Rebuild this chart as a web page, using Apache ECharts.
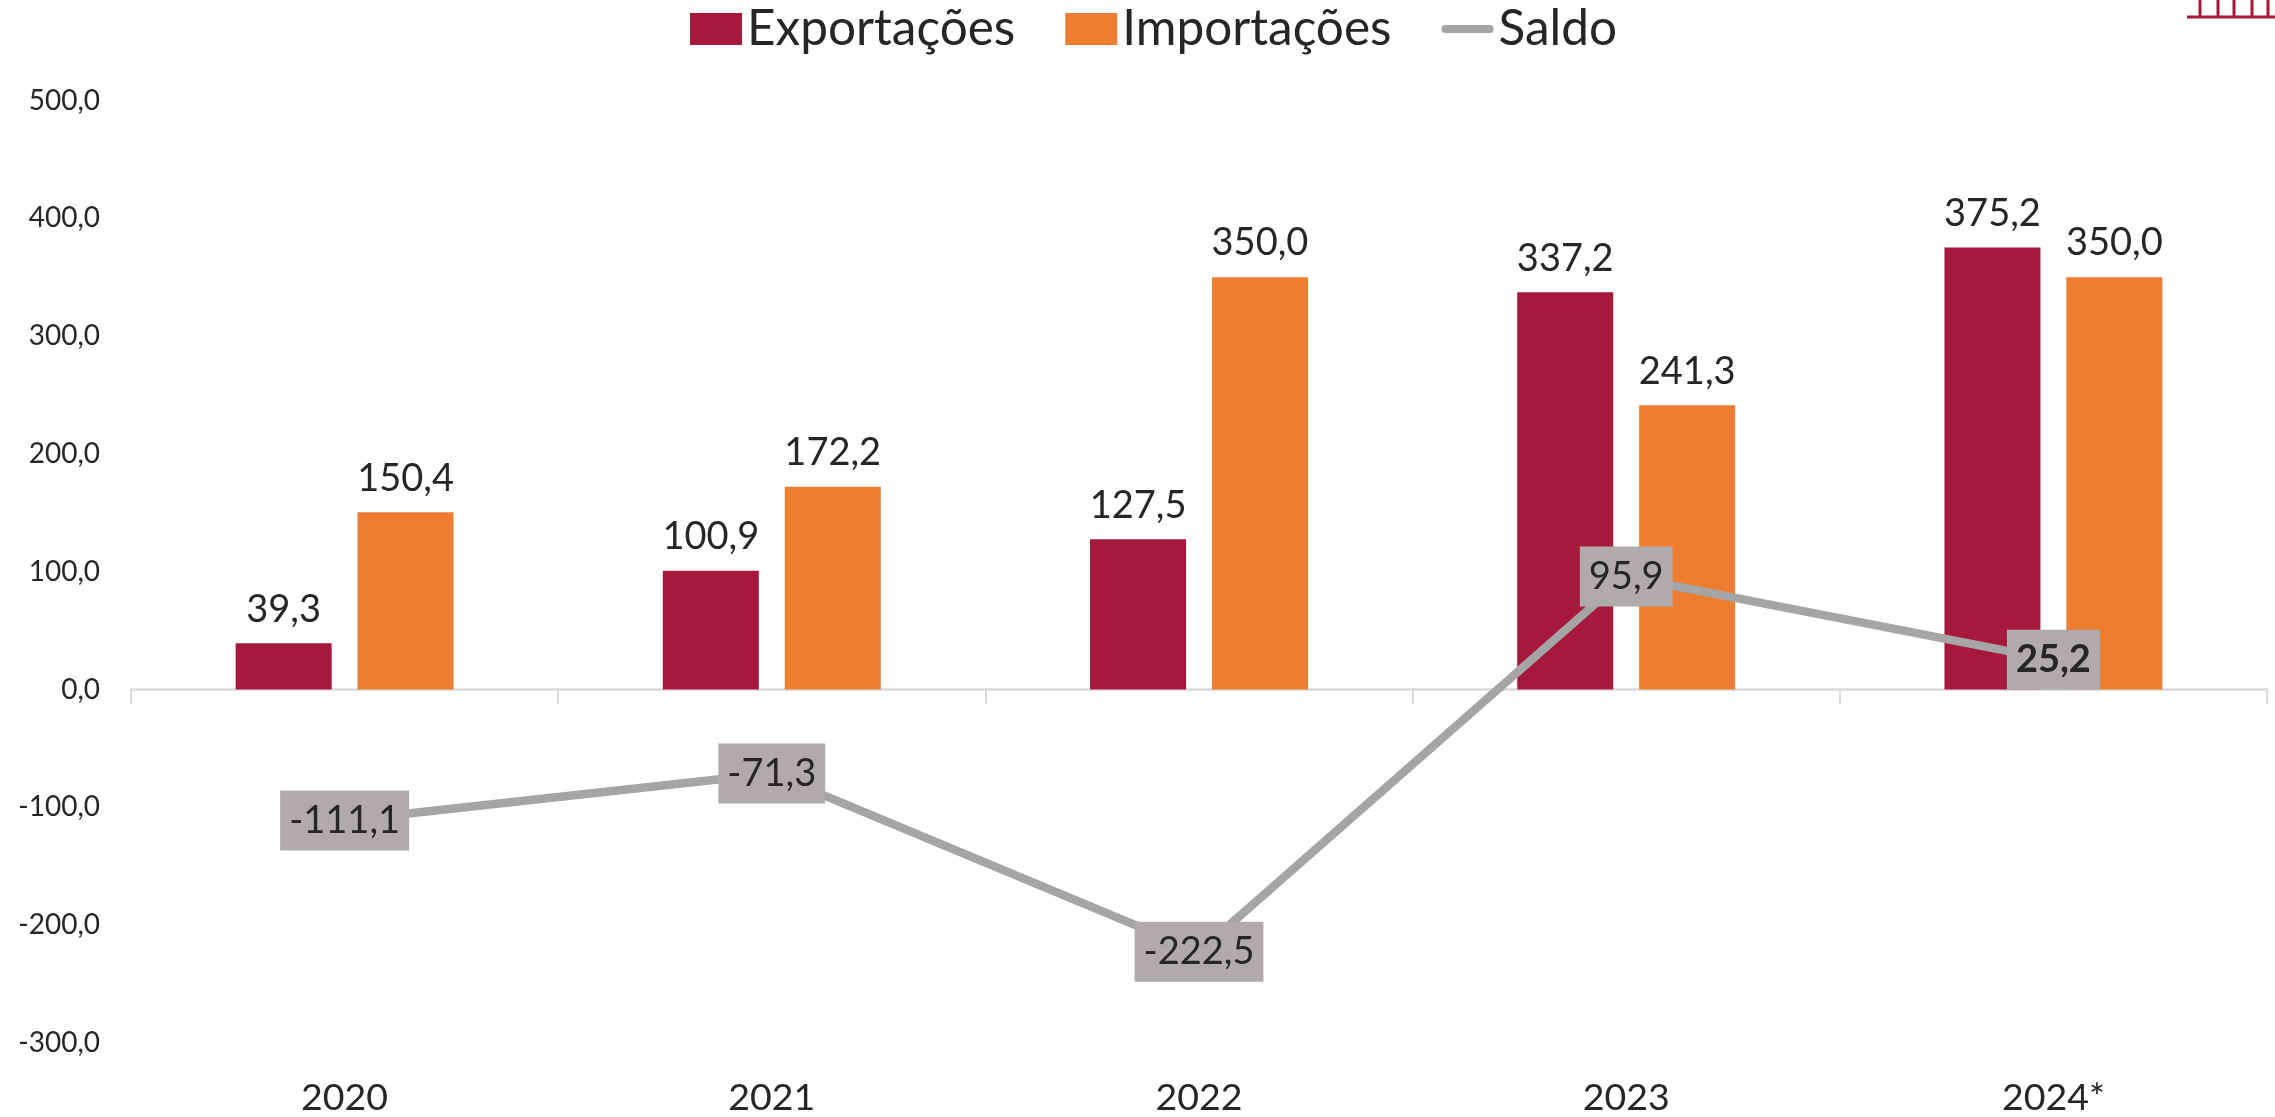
<!DOCTYPE html>
<html><head><meta charset="utf-8">
<style>html,body{margin:0;padding:0;background:#fff}#c{width:2275px;height:1117px}</style>
<script src="https://cdn.jsdelivr.net/npm/echarts@6/dist/echarts.min.js"></script>
</head><body><div id="c"></div>
<script>
const categories = ['2020','2021','2022','2023','2024*'];
const exportacoes = [39.3,100.9,127.5,337.2,375.2];
const importacoes = [150.4,172.2,350.0,241.3,350.0];
const saldo = [-111.1,-71.3,-222.5,95.9,25.2];
const FONT = 'Lato';
const INK = '#262626';
const fmt = v => v.toFixed(1).replace('.',',');
const chart = echarts.init(document.getElementById('c'),null,{renderer:'canvas'});
const barLabel = {show:true,position:'top',distance:15,fontFamily:FONT,fontSize:38,color:INK,formatter:p=>fmt(p.value)};
chart.setOption({
  animation:false,
  backgroundColor:'#fff',
  textStyle:{fontFamily:FONT,color:INK},
  grid:{left:131,right:8,top:100.5,bottom:74},
  legend:{
    top:4,left:690,padding:0,itemWidth:52,itemHeight:32,itemGap:50,
    textStyle:{fontFamily:FONT,fontSize:49.5,color:INK},
    data:[
      {name:'Exportações',icon:'rect'},
      {name:'Importações',icon:'rect'},
      {name:'Saldo',icon:'path://M0 0L0 0M52 32L52 32M4 12H48A4 4 0 0 1 48 20H4A4 4 0 0 1 4 12Z'}
    ]
  },
  xAxis:[
    {type:'category',data:categories,axisLine:{onZero:true,lineStyle:{color:'#D9D9D9',width:2.5}},
     axisTick:{show:true,length:14,lineStyle:{color:'#D9D9D9',width:2}},axisLabel:{show:false},splitLine:{show:false}},
    {type:'category',data:categories,position:'bottom',axisLine:{show:false,onZero:false},axisTick:{show:false},
     axisLabel:{show:true,margin:36,fontFamily:FONT,fontSize:37.5,color:INK},splitLine:{show:false}}
  ],
  yAxis:{type:'value',min:-300,max:500,interval:100,splitLine:{show:false},axisLine:{show:false},axisTick:{show:false},
    axisLabel:{margin:31,fontFamily:FONT,fontSize:28,color:INK,formatter:v=>fmt(v)}},
  series:[
    {name:'Exportações',type:'bar',data:exportacoes,barWidth:96,barGap:'27%',itemStyle:{color:'#A6193C'},label:barLabel,z:2},
    {name:'Importações',type:'bar',data:importacoes,barWidth:96,itemStyle:{color:'#ED7D31'},label:barLabel,z:2},
    {name:'Saldo',type:'line',data:saldo,symbol:'circle',symbolSize:1,showSymbol:true,z:5,
     lineStyle:{color:'#A5A5A5',width:8.5},itemStyle:{color:'#A5A5A5'},
     label:{show:true,position:'inside',fontFamily:FONT,fontSize:38,color:INK,backgroundColor:'#AFABAA',
       padding:[11,9,11,9],
       formatter:p=>p.dataIndex===4?'{b|'+fmt(p.value)+'}':fmt(p.value),
       rich:{b:{fontFamily:FONT,fontSize:38,fontWeight:'bold',color:INK}}}}
  ],
  graphic:[2200,2218,2234,2252,2268].map(x=>({type:'rect',shape:{x:x-1.5,y:0,width:3,height:17},style:{fill:'#A6193C'},silent:true}))
    .concat([{type:'rect',shape:{x:2187,y:15.5,width:88,height:3},style:{fill:'#A6193C'},silent:true}])
});
</script></body></html>
